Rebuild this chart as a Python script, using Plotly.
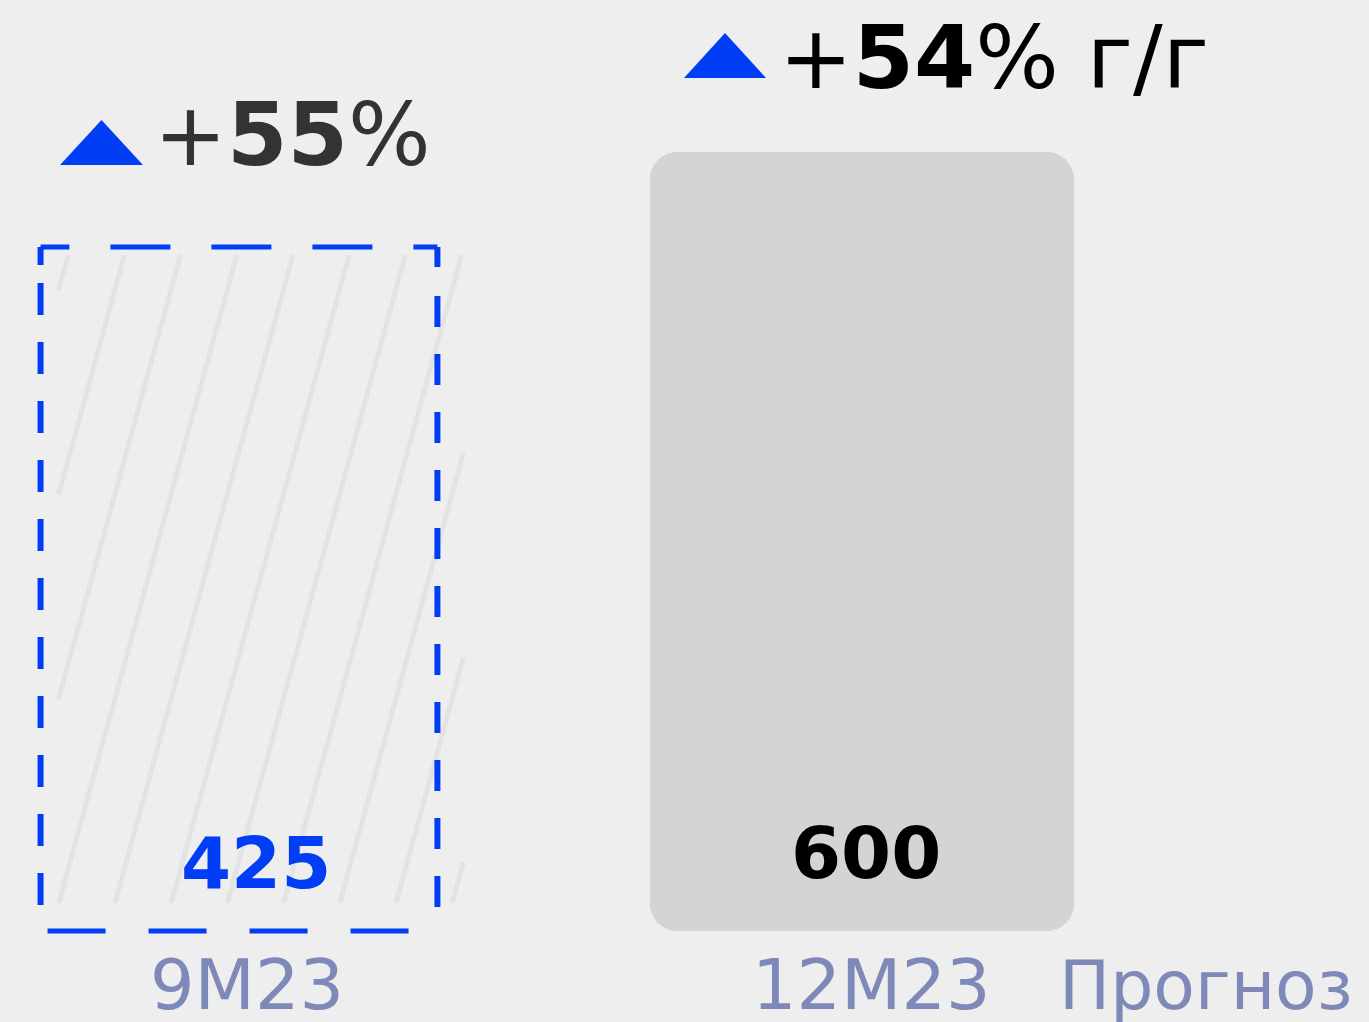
import plotly.graph_objects as go

# ---------------- data ----------------
CATEGORIES = ["9M23", "12M23"]
VALUES = [425, 600]
VALUE_LABELS = ["425", "600"]
GROWTH_LABELS = ["+<b>55</b>%", "+<b>54</b>% г/г"]
FORECAST_NOTE = "Прогноз"

# ---------------- layout constants ----------------
W, H = 1369, 1022
X_RANGE = [-0.3836, 1.8138]
Y_RANGE = [-1002.6, 880.0]
BASE = -835
BAR_WIDTHS = [0.637, 0.681]
BG = "#eeeeee"
BLUE = "#003df5"
GREY_BAR = "#d4d4d4"
LABEL_COLOR = "#7f89b9"
FONT = "DejaVu Sans"


def xpx(x):
    return (x - X_RANGE[0]) / (X_RANGE[1] - X_RANGE[0]) * W


def ypx(y):
    return H - (y - Y_RANGE[0]) / (Y_RANGE[1] - Y_RANGE[0]) * H


def xp(px):  # pixel -> paper
    return px / W


def yp(py):
    return 1 - py / H


def dash_list(length, first, repeat):
    """explicit px dash list: leading (dash, gap), then repeated (dash, gap)"""
    segs = list(first)
    total = sum(segs)
    while total < length + 200:
        segs.extend(repeat)
        total += sum(repeat)
    return ",".join(f"{s}px" for s in segs)


fig = go.Figure()

# bars: drawn from the common baseline BASE up to each value
fig.add_trace(go.Bar(
    x=[0], y=[VALUES[0] - BASE], base=BASE, width=BAR_WIDTHS[0],
    marker=dict(color="rgba(0,0,0,0)", line=dict(width=0)),
    hoverinfo="skip", showlegend=False,
))
fig.add_trace(go.Bar(
    x=[1], y=[VALUES[1] - BASE], base=BASE, width=BAR_WIDTHS[1],
    marker=dict(color=GREY_BAR, line=dict(width=0), cornerradius=27),
    hoverinfo="skip", showlegend=False,
))

shapes = []

# hatch lines inside left bar
bx0 = xpx(0 - BAR_WIDTHS[0] / 2)
bx1 = xpx(0 + BAR_WIDTHS[0] / 2)
by_top = ypx(VALUES[0])
by_bot = ypx(BASE)
hx0, hx1 = bx0 + 18, bx1 + 26
hy_top, hy_bot = by_top + 8, by_bot - 28
slope = 0.2747  # horizontal px per vertical px
period = 56.2
phase = 115.0
k = -10
while True:
    c = phase + k * period
    k += 1
    if c > hx1:
        break
    span = (hy_bot - hy_top) * slope
    if c + span < hx0:
        continue
    if c < hx0:
        sx, sy = hx0, hy_bot - (hx0 - c) / slope
    else:
        sx, sy = c, hy_bot
    if c + span > hx1:
        ex, ey = hx1, hy_bot - (hx1 - c) / slope
    else:
        ex, ey = c + span, hy_top
    shapes.append(dict(type="line", xref="paper", yref="paper",
                       x0=xp(sx), y0=yp(sy), x1=xp(ex), y1=yp(ey),
                       line=dict(color="#e3e3e3", width=5)))

# dashed outline of left bar, one edge at a time
L, R = 0 - BAR_WIDTHS[0] / 2, 0 + BAR_WIDTHS[0] / 2
T, B = VALUES[0], BASE
w_px = bx1 - bx0
h_px = by_bot - by_top
edges = [
    # (x0, y0, x1, y1, dash, width)
    (R, T, L, T, dash_list(w_px, [24, 41], [60, 41]), 5),      # top, right->left
    (L, B, R, B, dash_list(w_px, [0, 7], [58, 43]), 5),        # bottom, left->right
    (L, T, L, B, dash_list(h_px, [18, 18], [32, 27]), 6),      # left, top->bottom
    (R, T, R, B, dash_list(h_px, [20, 29], [31, 27]), 6),      # right, top->bottom
]
for x0, y0, x1, y1, dash, lw in edges:
    shapes.append(dict(type="line", xref="x", yref="y",
                       x0=x0, y0=y0, x1=x1, y1=y1,
                       line=dict(color=BLUE, width=lw, dash=dash)))


def tri(cx, base_py, w, h):
    l, r = xp(cx - w / 2), xp(cx + w / 2)
    b, t = yp(base_py), yp(base_py - h)
    return dict(type="path", xref="paper", yref="paper",
                path=f"M {l},{b} L {r},{b} L {xp(cx)},{t} Z",
                fillcolor=BLUE, line=dict(width=0))


shapes.append(tri(101.5, 165, 83, 45))
shapes.append(tri(725, 78, 82, 45))

annotations = []
annotations.append(dict(xref="paper", yref="paper", x=xp(152), y=yp(135),
                        xanchor="left", yanchor="middle", showarrow=False,
                        text=GROWTH_LABELS[0],
                        font=dict(family=FONT, size=87, color="#333333")))
annotations.append(dict(xref="paper", yref="paper", x=xp(777), y=yp(58),
                        xanchor="left", yanchor="middle", showarrow=False,
                        text=GROWTH_LABELS[1],
                        font=dict(family=FONT, size=88, color="#000000")))
annotations.append(dict(xref="x", yref="paper", x=0, xshift=17, y=yp(863),
                        xanchor="center", yanchor="middle", showarrow=False,
                        text=f"<b>{VALUE_LABELS[0]}</b>",
                        font=dict(family=FONT, size=72, color=BLUE)))
annotations.append(dict(xref="x", yref="paper", x=1, xshift=4, y=yp(853),
                        xanchor="center", yanchor="middle", showarrow=False,
                        text=f"<b>{VALUE_LABELS[1]}</b>",
                        font=dict(family=FONT, size=72, color="#000000")))
annotations.append(dict(xref="x", yref="paper", x=0, xshift=8, y=yp(985),
                        xanchor="center", yanchor="middle", showarrow=False,
                        text=CATEGORIES[0],
                        font=dict(family=FONT, size=70, color=LABEL_COLOR)))
annotations.append(dict(xref="x", yref="paper", x=1, xshift=9, y=yp(985),
                        xanchor="center", yanchor="middle", showarrow=False,
                        text=CATEGORIES[1],
                        font=dict(family=FONT, size=70, color=LABEL_COLOR)))
annotations.append(dict(xref="paper", yref="paper", x=xp(1057), y=yp(985),
                        xanchor="left", yanchor="middle", showarrow=False,
                        text=FORECAST_NOTE,
                        font=dict(family=FONT, size=68, color=LABEL_COLOR)))

fig.update_layout(
    width=W, height=H,
    margin=dict(l=0, r=0, t=0, b=0, pad=0),
    paper_bgcolor=BG, plot_bgcolor=BG,
    xaxis=dict(range=X_RANGE, visible=False, fixedrange=True),
    yaxis=dict(range=Y_RANGE, visible=False, fixedrange=True),
    shapes=shapes, annotations=annotations,
    showlegend=False, bargap=0,
)

fig.write_html("out.html", config={"displayModeBar": False},
               post_script="document.body.style.margin='0';document.body.style.overflow='hidden';")
